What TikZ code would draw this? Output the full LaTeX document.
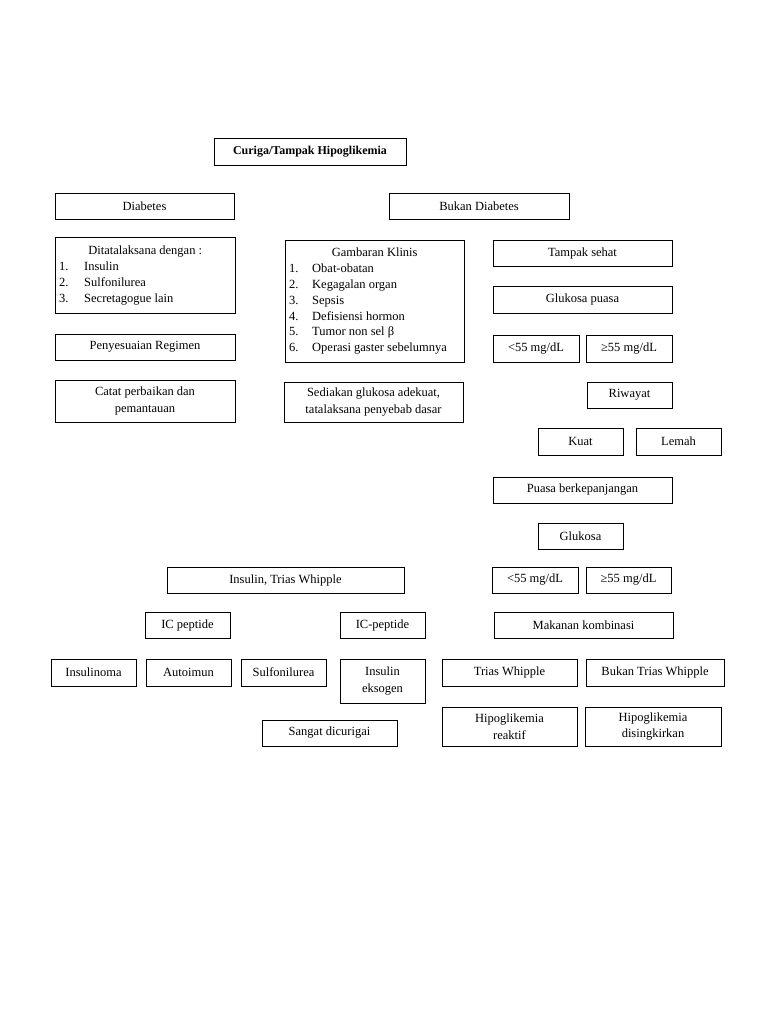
\documentclass[tikz,border=0pt]{standalone}
\usepackage{fontspec}
\setmainfont{Liberation Serif}
\begin{document}
\begin{tikzpicture}[x=1pt,y=-1pt,
  box/.style={draw,line width=0.8pt,inner sep=0pt,align=center,font=\fontsize{12.5}{16.5}\selectfont},
  listtext/.style={inner sep=0pt,anchor=north west,align=left,font=\fontsize{12.5}{15.8}\selectfont}]
\useasboundingbox[fill=white] (0,0) rectangle (768,1024);
\newcommand{\bx}[6]{\pgfmathsetmacro\bxw{#4-#2}\pgfmathsetmacro\bxh{#5-#3}%
  \node[box,minimum width=\bxw pt,minimum height=\bxh pt] (#1) at ({(#2+#4)/2},{(#3+#5)/2}) {#6};}
% title
\bx{title}{214}{138}{406}{165}{\fontsize{12}{14}\selectfont\bfseries Curiga/Tampak Hipoglikemia}
% row 1
\bx{diab}{55}{193}{234}{219}{Diabetes}
\bx{bukan}{389}{193}{569}{219}{Bukan Diabetes}
% left column
\bx{ditata}{55}{237}{235}{313}{}
\node[listtext] (ditatatext) at (59,246) {\makebox[172pt]{Ditatalaksana dengan :}\\
  \makebox[25pt][l]{1.}Insulin\\
  \makebox[25pt][l]{2.}Sulfonilurea\\
  \makebox[25pt][l]{3.}Secretagogue lain};
\bx{penyes}{55}{334}{235}{360}{Penyesuaian Regimen}
\bx{catat}{55}{380}{235}{422}{Catat perbaikan dan\\pemantauan}
% middle column
\bx{gambaran}{285}{240}{464}{362}{}
\node[listtext] (gambarantext) at (289,248) {\makebox[171pt]{Gambaran Klinis}\\
  \makebox[23pt][l]{1.}Obat-obatan\\
  \makebox[23pt][l]{2.}Kegagalan organ\\
  \makebox[23pt][l]{3.}Sepsis\\
  \makebox[23pt][l]{4.}Defisiensi hormon\\
  \makebox[23pt][l]{5.}Tumor non sel β\\
  \makebox[23pt][l]{6.}Operasi gaster sebelumnya};
\bx{sediakan}{284}{382}{463}{422}{Sediakan glukosa adekuat,\\tatalaksana penyebab dasar}
% right column
\bx{tampak}{493}{240}{672}{266}{Tampak sehat}
\bx{glupuasa}{493}{286}{672}{313}{Glukosa puasa}
\bx{lessA}{493}{335}{579}{362}{<55 mg/dL}
\bx{geA}{586}{335}{672}{362}{≥55 mg/dL}
\bx{riwayat}{587}{382}{672}{408}{Riwayat}
\bx{kuat}{538}{428}{623}{455}{Kuat}
\bx{lemah}{636}{428}{721}{455}{Lemah}
\bx{puasa}{493}{477}{672}{503}{Puasa berkepanjangan}
\bx{glukosa}{538}{523}{623}{549}{Glukosa}
\bx{lessB}{492}{567}{578}{593}{<55 mg/dL}
\bx{geB}{586}{567}{671}{593}{≥55 mg/dL}
\bx{makanan}{494}{612}{673}{638}{Makanan kombinasi}
\bx{trias}{442}{659}{577}{686}{Trias Whipple}
\bx{bukantrias}{586}{659}{724}{686}{Bukan Trias Whipple}
\bx{reaktif}{442}{707}{577}{746}{Hipoglikemia\\reaktif}
\bx{singkir}{585}{707}{721}{746}{Hipoglikemia\\disingkirkan}
% lower left
\bx{insulintrias}{167}{567}{404}{593}{Insulin, Trias Whipple}
\bx{icpep}{145}{612}{230}{638}{IC peptide}
\bx{icpepb}{340}{612}{425}{638}{IC-peptide}
\bx{insulinoma}{51}{659}{136}{686}{Insulinoma}
\bx{autoimun}{146}{659}{231}{686}{Autoimun}
\bx{sulfo}{241}{659}{326}{686}{Sulfonilurea}
\bx{eksogen}{340}{659}{425}{703}{Insulin\\eksogen}
\bx{sangat}{262}{720}{397}{746}{Sangat dicurigai}
\end{tikzpicture}
\end{document}
